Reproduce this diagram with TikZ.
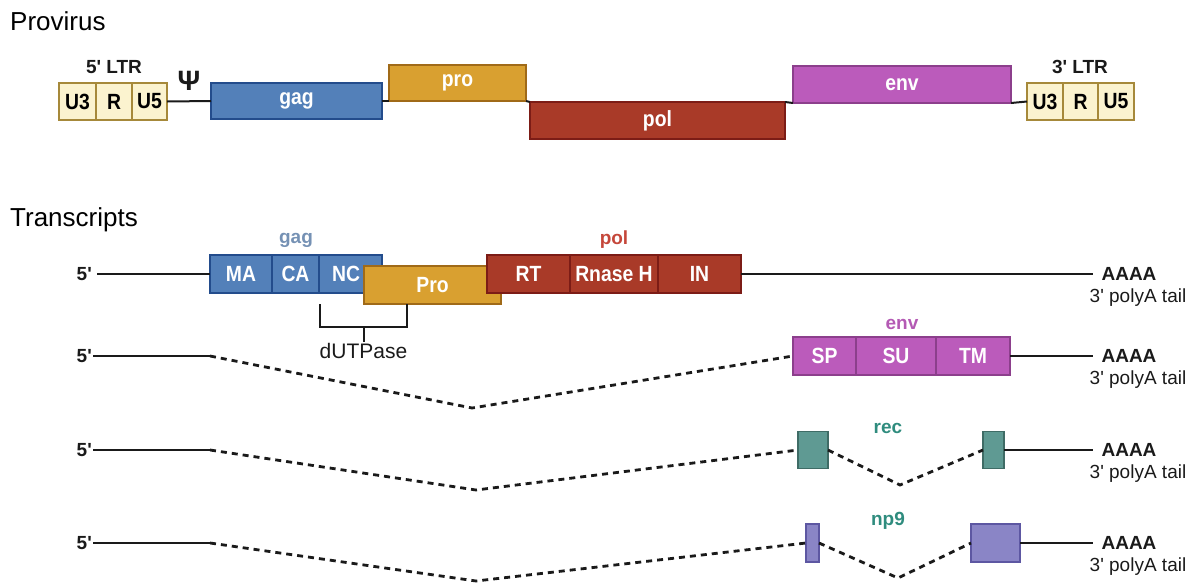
\documentclass[tikz,border=0pt]{standalone}
\usepackage{fontspec}
\setmainfont{Liberation Sans}
\newfontfamily\narrowsans[FakeStretch=0.88]{Liberation Sans}
\definecolor{ink}{HTML}{1A1A1A}
\definecolor{ltrfill}{HTML}{FBF3CF}
\definecolor{ltrdraw}{HTML}{A6893A}
\definecolor{gagfill}{HTML}{5380B9}
\definecolor{gagdraw}{HTML}{234C8C}
\definecolor{gagtext}{HTML}{7591B4}
\definecolor{profill}{HTML}{D9A030}
\definecolor{prodraw}{HTML}{A06A18}
\definecolor{polfill}{HTML}{A93A28}
\definecolor{poldraw}{HTML}{7C1C16}
\definecolor{poltext}{HTML}{C5473A}
\definecolor{envfill}{HTML}{BB5BBB}
\definecolor{envdraw}{HTML}{8C3F8C}
\definecolor{envtext}{HTML}{B45AB4}
\definecolor{recfill}{HTML}{5F9A93}
\definecolor{recdraw}{HTML}{3F6C66}
\definecolor{rectext}{HTML}{2F8C7E}
\definecolor{npfill}{HTML}{8A85C6}
\definecolor{npdraw}{HTML}{5D57A2}
\newcommand\boxfont{\narrowsans\fontsize{22}{24}\selectfont\bfseries}
\newcommand\tagfont{\fontsize{19}{22}\selectfont\bfseries}
\newcommand\notefont{\fontsize{19}{22}\selectfont}
\newcommand\headfont{\fontsize{26}{30}\selectfont}
\newcommand\psifont{\fontsize{28}{32}\selectfont\bfseries}

\begin{document}
\begin{tikzpicture}[x=1pt, y=-1pt,
  seg/.style={draw, line width=1.6pt, inner sep=0pt, outer sep=0pt,
    minimum height=38pt, font=\boxfont, text=white},
  ltrcell/.style={seg, fill=ltrfill, draw=ltrdraw, text=black,
    minimum height=37pt},
  gagseg/.style={seg, fill=gagfill, draw=gagdraw},
  proseg/.style={seg, fill=profill, draw=prodraw},
  polseg/.style={seg, fill=polfill, draw=poldraw},
  envseg/.style={seg, fill=envfill, draw=envdraw},
  recseg/.style={seg, fill=recfill, draw=recdraw, minimum height=37pt},
  npseg/.style={seg, fill=npfill, draw=npdraw},
  head/.style={font=\headfont, anchor=base west, inner sep=0pt},
  tag/.style={font=\tagfont, text=ink, inner sep=1pt},
  note/.style={font=\notefont, text=ink, inner sep=1pt},
  rna/.style={draw=ink, line width=2pt},
  splice/.style={draw=ink, line width=2.8pt, dash pattern=on 6pt off 5pt},
]
\useasboundingbox (0,0) rectangle (1195,582);

% provirus: LTR - psi - gag pro pol env - LTR on one backbone
\node[head] (provirus) at (10,30) {Provirus};
\node[tag] (ltrfive) at (114,67) {5\textquotesingle{} LTR};
\node[ltrcell, minimum width=37pt] (u3a) at (77.5,101.5) {U3};
\node[ltrcell, minimum width=36pt] (ra) at (114,101.5) {R};
\node[ltrcell, minimum width=35pt] (u5a) at (149.5,101.5) {U5};
\node[font=\psifont, text=ink, inner sep=0pt] (psi) at (189,81) {Ψ};
\node[gagseg, minimum width=171pt, minimum height=36pt] (gagP) at (296.5,101) {gag};
\node[proseg, minimum width=137pt, minimum height=36pt] (proP) at (457.5,83) {pro};
\node[polseg, minimum width=255pt, minimum height=37pt] (polP) at (657.5,120.5) {pol};
\node[envseg, minimum width=218pt, minimum height=37pt] (envP) at (902,84.5) {env};
\node[tag] (ltrthree) at (1080,67) {3\textquotesingle{} LTR};
\node[ltrcell, minimum width=36pt] (u3b) at (1045,101.5) {U3};
\node[ltrcell, minimum width=35pt] (rb) at (1080.5,101.5) {R};
\node[ltrcell, minimum width=36pt] (u5b) at (1116,101.5) {U5};
\draw[rna] (u5a.east) -- (gagP.west);
\draw[rna] (gagP.east) -- (proP.south west);
\draw[rna] (proP.south east) -- (polP.north west);
\draw[rna] (polP.north east) -- (envP.south west);
\draw[rna] (envP.south east) -- (u3b.west);

% transcripts: row labels at both ends
\node[head] (transcripts) at (10,226) {Transcripts};
\foreach \r/\y in {1/274, 2/356, 3/450, 4/543} {
  \node[tag, anchor=east] (five\r) at (93,\y) {5\textquotesingle};
  \node[tag] (aaaa\r) at (1129,\y) {AAAA};
  \node[note] (tail\r) at (1138,\y+24) {3\textquotesingle{} polyA tail};
}

% full-length transcript
\node[font=\tagfont, text=gagtext] (gaglab) at (296,240) {gag};
\node[font=\tagfont, text=poltext] (pollab) at (614,240) {pol};
\node[gagseg, minimum width=62pt] (ma) at (241,274) {MA};
\node[gagseg, minimum width=47pt] (ca) at (295.5,274) {CA};
\node[gagseg, minimum width=63pt] (nc) at (350.5,274) {NC\hspace*{9pt}};
\node[proseg, minimum width=137pt] (pro) at (432.5,285) {Pro};
\node[polseg, minimum width=83pt] (rt) at (528.5,274) {RT};
\node[polseg, minimum width=88pt] (rnh) at (614,274) {Rnase H};
\node[polseg, minimum width=83pt] (intg) at (699.5,274) {IN};
\draw[rna] (five1.east) ++(4,0) -- (ma.west);
\draw[rna, shorten >=7pt] (intg.east) -- (aaaa1.west);
\coordinate (brl) at (320,304);
\coordinate (brr) at (407,304);
\coordinate (brk) at (363.5,327);
\node[note, font=\fontsize{21}{24}\selectfont] (dutp) at (363.5,351) {dUTPase};
\draw[rna] (brl) -- (brl |- brk) -| (brr);
\draw[rna] (brk) -- (dutp.north);

% env transcript
\node[font=\tagfont, text=envtext] (envlab) at (902,324) {env};
\node[envseg, minimum width=63pt] (sp) at (824.5,356) {SP};
\node[envseg, minimum width=80pt] (su) at (896,356) {SU};
\node[envseg, minimum width=74pt] (tm) at (973,356) {TM};
\coordinate (cut2) at (210,356);
\coordinate (dip2) at (472,408);
\draw[rna] (five2.east) -- (cut2);
\draw[splice] (cut2) -- (dip2) -- (sp.west);
\draw[rna, shorten >=7pt] (tm.east) -- (aaaa2.west);

% rec transcript
\node[font=\tagfont, text=rectext] (reclab) at (888,428) {rec};
\node[recseg, minimum width=30pt] (reca) at (813,450) {};
\node[recseg, minimum width=21pt] (recb) at (993.5,450) {};
\coordinate (cut3) at (210,450);
\coordinate (dip3) at (476,490);
\coordinate (dip3b) at (900,485);
\draw[rna] (five3.east) -- (cut3);
\draw[splice] (cut3) -- (dip3) -- (reca.west);
\draw[splice] (reca.east) -- (dip3b) -- (recb.west);
\draw[rna, shorten >=7pt] (recb.east) -- (aaaa3.west);

% np9 transcript
\node[font=\tagfont, text=rectext] (nplab) at (888,521) {np9};
\node[npseg, minimum width=13pt] (npa) at (812.5,543) {};
\node[npseg, minimum width=49pt] (npb) at (995.5,543) {};
\coordinate (cut4) at (210,543);
\coordinate (dip4) at (476,581);
\coordinate (dip4b) at (898,578);
\draw[rna] (five4.east) -- (cut4);
\draw[splice] (cut4) -- (dip4) -- (npa.west);
\draw[splice] (npa.east) -- (dip4b) -- (npb.west);
\draw[rna, shorten >=7pt] (npb.east) -- (aaaa4.west);
\end{tikzpicture}
\end{document}
